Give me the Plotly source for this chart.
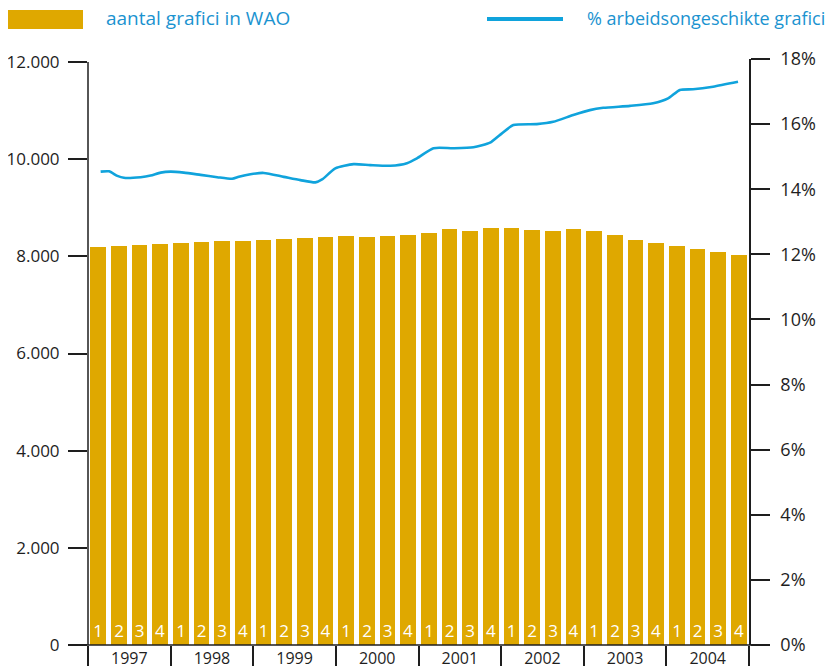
import plotly.graph_objects as go

# ---- data ----
years = [1997, 1998, 1999, 2000, 2001, 2002, 2003, 2004]
quarters = [1, 2, 3, 4]
aantal_grafici = [
    8190, 8210, 8235, 8255,   # 1997
    8275, 8295, 8315, 8315,   # 1998
    8335, 8355, 8380, 8400,   # 1999
    8420, 8400, 8420, 8440,   # 2000
    8480, 8565, 8520, 8585,   # 2001
    8585, 8545, 8520, 8565,   # 2002
    8520, 8440, 8335, 8275,   # 2003
    8215, 8150, 8090, 8030,   # 2004
]
# line: time (decimal year) and % arbeidsongeschikte grafici
pct_time = [1997.153, 1997.254, 1997.355, 1997.435, 1997.637, 1997.758, 1997.879, 1997.999,
            1998.160, 1998.362, 1998.564, 1998.745, 1998.825, 1998.966, 1999.127, 1999.369,
            1999.570, 1999.752, 1999.833, 1999.993, 2000.215, 2000.416, 2000.658, 2000.860,
            2000.981, 2001.181, 2001.423, 2001.665, 2001.866, 2001.987, 2002.148, 2002.431,
            2002.631, 2002.873, 2003.074, 2003.236, 2003.559, 2003.840, 2004.021, 2004.163,
            2004.323, 2004.565, 2004.867]
pct_arbeidsongeschikt = [14.54, 14.55, 14.41, 14.35, 14.37, 14.42, 14.51, 14.54,
                         14.51, 14.44, 14.37, 14.32, 14.38, 14.46, 14.50, 14.38,
                         14.28, 14.21, 14.30, 14.64, 14.77, 14.74, 14.72, 14.80,
                         14.95, 15.26, 15.26, 15.29, 15.43, 15.67, 15.97, 16.00,
                         16.07, 16.28, 16.43, 16.50, 16.56, 16.64, 16.79, 17.05,
                         17.07, 17.15, 17.30]
left_ticks = [0, 2000, 4000, 6000, 8000, 10000, 12000]
left_ticktext = ["0", "2.000", "4.000", "6.000", "8.000", "10.000", "12.000"]
right_ticks = [0, 2, 4, 6, 8, 10, 12, 14, 16, 18]
right_ticktext = ["0%", "2%", "4%", "6%", "8%", "10%", "12%", "14%", "16%", "18%"]
legend_bar = "aantal grafici in WAO"
legend_line = "% arbeidsongeschikte grafici"

GOLD = "#DFA800"
BLUE = "#10A3DC"
TEXTBLUE = "#1B93D0"
INK = "#1E1E1E"
FONT = "Open Sans"

# the page places the figure 8px from the window's top-left corner
OFF = 8
W, H = 840, 666
PL, PR, PT, PB = 88, 749, 59, 645      # plot area in window pixels
PW, PH = PR - PL, PB - PT

def px(xw):
    return (xw - PL) / PW

def py(yw):
    return (PB - yw) / PH

bar_x = [y + (q - 0.5) / 4 for y in years for q in quarters]
bar_text = [str(q) for y in years for q in quarters]

fig = go.Figure()
fig.add_trace(go.Bar(
    x=bar_x, y=aantal_grafici, width=0.19, marker=dict(color=GOLD, line=dict(width=0)),
    text=bar_text, textposition="inside", insidetextanchor="start", textangle=0,
    constraintext="none",
    insidetextfont=dict(color="white", size=17, family=FONT),
    name=legend_bar, showlegend=False, hoverinfo="skip",
))
fig.add_trace(go.Scatter(
    x=pct_time, y=pct_arbeidsongeschikt, yaxis="y2", mode="lines",
    line=dict(color=BLUE, width=2.6, shape="spline", smoothing=0.6),
    name=legend_line, showlegend=False, hoverinfo="skip",
))

shapes = [
    # x axis baseline (extends beyond both axes)
    dict(type="line", xref="paper", yref="paper", x0=px(68), x1=px(767), y0=0, y1=0,
         line=dict(color=INK, width=1.5)),
    # left axis line up to 12.000
    dict(type="line", xref="paper", yref="y", x0=0, x1=0, y0=0, y1=12000,
         line=dict(color=INK, width=1.5)),
    # legend swatches
    dict(type="rect", xref="paper", yref="paper",
         x0=px(8), x1=px(83), y0=py(29), y1=py(10),
         fillcolor=GOLD, line=dict(width=0)),
    dict(type="line", xref="paper", yref="paper",
         x0=px(487), x1=px(563), y0=py(19), y1=py(19),
         line=dict(color=BLUE, width=4)),
]
annotations = [
    dict(text=legend_bar, xref="paper", yref="paper", x=px(104), y=py(18),
         xanchor="left", yanchor="middle", showarrow=False,
         font=dict(family=FONT, size=19, color=TEXTBLUE)),
    dict(text=legend_line, xref="paper", yref="paper", x=px(585), y=py(18),
         xanchor="left", yanchor="middle", showarrow=False,
         font=dict(family=FONT, size=18, color=TEXTBLUE)),
]

fig.update_layout(
    width=W - OFF, height=H - OFF,
    margin=dict(l=PL - OFF, r=W - PR, t=PT - OFF, b=H - PB, autoexpand=False),
    paper_bgcolor="white", plot_bgcolor="white",
    font=dict(family=FONT, size=17, color=INK),
    bargap=0,
    xaxis=dict(
        range=[1997, 2005], showgrid=False, zeroline=False, showline=False,
        tickmode="array", tickvals=[y + 0.5 for y in years], ticktext=[str(y) for y in years],
        ticks="", tickfont=dict(size=16, color=INK), automargin=False, ticklabelstandoff=2,
        minor=dict(tickmode="array", tickvals=years + [2005], ticks="outside",
                   ticklen=20, tickwidth=1.5, tickcolor=INK, showgrid=False),
    ),
    yaxis=dict(
        range=[0, 12062], showgrid=False, zeroline=False, showline=False,
        tickmode="array", tickvals=left_ticks, ticktext=left_ticktext,
        ticks="outside", ticklen=19, tickwidth=1.5, tickcolor=INK,
        tickfont=dict(size=17, color=INK), automargin=False, ticklabelstandoff=5,
    ),
    yaxis2=dict(
        range=[0, 18], overlaying="y", side="right", showgrid=False, zeroline=False,
        showline=True, linecolor=INK, linewidth=1.5,
        tickmode="array", tickvals=right_ticks, ticktext=right_ticktext,
        ticks="outside", ticklen=19, tickwidth=1.5, tickcolor=INK,
        tickfont=dict(size=18, color=INK), automargin=False, ticklabelstandoff=7,
    ),
    shapes=shapes, annotations=annotations,
)

fig.write_html("out.html")
